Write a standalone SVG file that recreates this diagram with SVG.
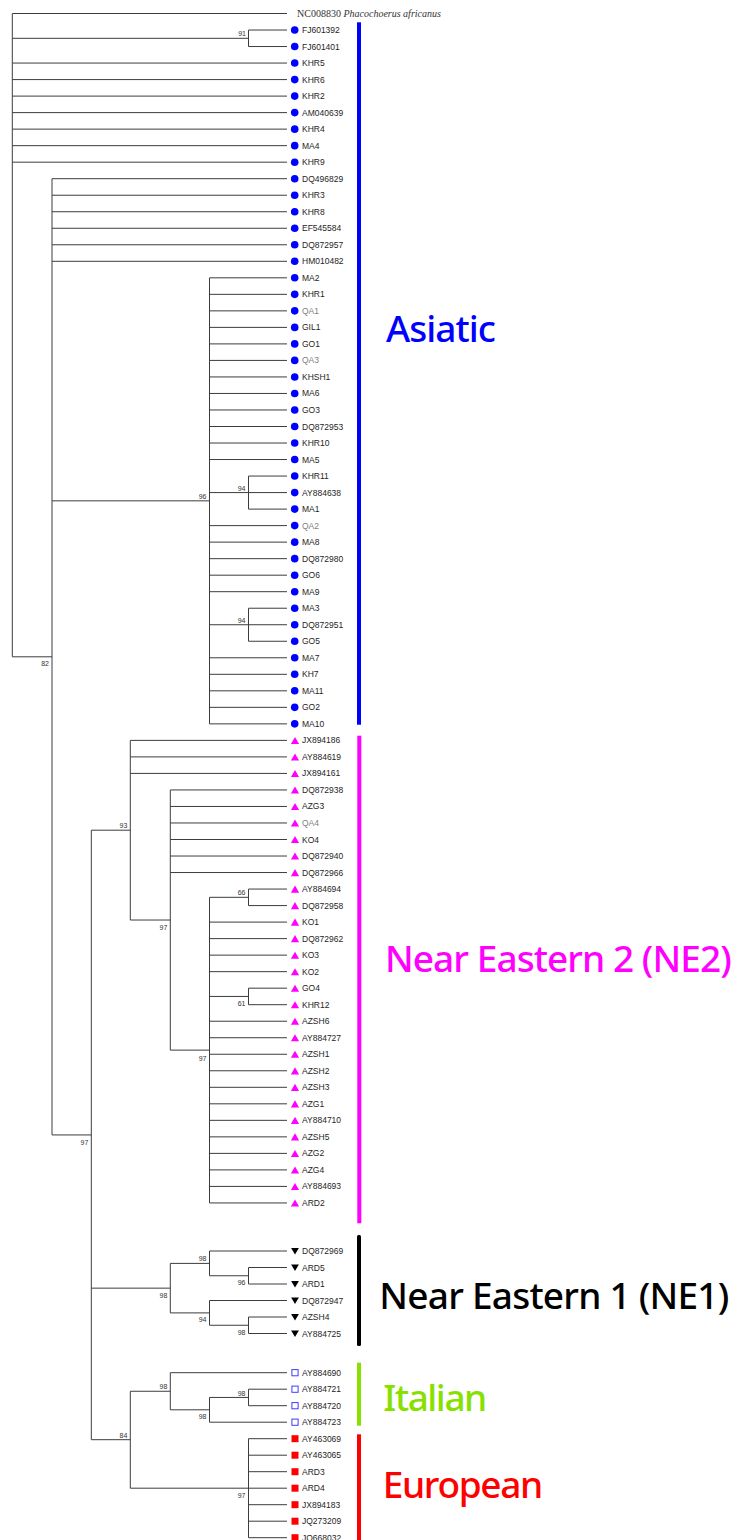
<svg xmlns="http://www.w3.org/2000/svg" width="739" height="1540" viewBox="0 0 739 1540">
<style>
.br{fill:none;stroke:#3c3c3c;stroke-width:1}
.lf{font-family:"Liberation Sans",Arial,sans-serif;font-size:8.5px;fill:#1e1e1e}
.qa{fill:#808080}
.bs{font-family:"Liberation Sans",Arial,sans-serif;font-size:7px;fill:#333;text-anchor:end}
.cl{font-family:"Noto Sans","Open Sans",sans-serif;font-size:37px;font-weight:500}
</style>
<defs>
<circle id="c" r="3.8" fill="#0000ff"/>
<polygon id="tu" points="0,-3.5 4.1,3.6 -4.1,3.6" fill="#ff00ff"/>
<polygon id="td" points="-3.9,-3 3.9,-3 0,3.5" fill="#000"/>
<rect id="so" x="-3.1" y="-3.1" width="6.2" height="6.2" fill="none" stroke="#3c3cff" stroke-width="1"/>
<rect id="sr" x="-3.5" y="-3.5" width="7" height="7" fill="#ff0000"/>
</defs>
<rect width="739" height="1540" fill="#fff"/>
<g id="connectors" class="br">
<path d="M12.3 13.5V656.8 M12.3 13.5H287 M12.3 38.3H248.5 M12.3 63.06H287 M12.3 79.58H287 M12.3 96.1H287 M12.3 112.62H287 M12.3 129.14H287 M12.3 145.66H287 M12.3 162.18H287 M12.3 656.8H52"/>
<path d="M248.5 30.02V46.54 M248.5 30.02H287 M248.5 46.54H287"/>
<path d="M52 178.7V1134.95 M52 178.7H287 M52 195.22H287 M52 211.74H287 M52 228.26H287 M52 244.78H287 M52 261.3H287 M52 500.84H209.5 M52 1134.95H91.3"/>
<path d="M209.5 277.82V723.86 M209.5 277.82H287 M209.5 294.34H287 M209.5 310.86H287 M209.5 327.38H287 M209.5 343.9H287 M209.5 360.42H287 M209.5 376.94H287 M209.5 393.46H287 M209.5 409.98H287 M209.5 426.5H287 M209.5 443.02H287 M209.5 459.54H287 M209.5 492.58H248.5 M209.5 525.62H287 M209.5 542.14H287 M209.5 558.66H287 M209.5 575.18H287 M209.5 591.7H287 M209.5 624.74H248.5 M209.5 657.78H287 M209.5 674.3H287 M209.5 690.82H287 M209.5 707.34H287 M209.5 723.86H287"/>
<path d="M248.5 476.06V509.1 M248.5 476.06H287 M248.5 492.58H287 M248.5 509.1H287"/>
<path d="M248.5 608.22V641.26 M248.5 608.22H287 M248.5 624.74H287 M248.5 641.26H287"/>
<path d="M91.3 830.2V1439.7 M91.3 830.2H130.3 M91.3 1288.15H170.3 M91.3 1439.7H130.3"/>
<path d="M130.3 740.38V920.03 M130.3 740.38H287 M130.3 756.9H287 M130.3 773.42H287 M130.3 920.03H170.3"/>
<path d="M170.3 789.94V1050.13 M170.3 789.94H287 M170.3 806.46H287 M170.3 822.98H287 M170.3 839.5H287 M170.3 856.02H287 M170.3 872.54H287 M170.3 1050.13H209.5"/>
<path d="M209.5 897.32V1202.94 M209.5 897.32H248.5 M209.5 922.1H287 M209.5 938.62H287 M209.5 955.14H287 M209.5 971.66H287 M209.5 996.44H248.5 M209.5 1021.22H287 M209.5 1037.74H287 M209.5 1054.26H287 M209.5 1070.78H287 M209.5 1087.3H287 M209.5 1103.82H287 M209.5 1120.34H287 M209.5 1136.86H287 M209.5 1153.38H287 M209.5 1169.9H287 M209.5 1186.42H287 M209.5 1202.94H287"/>
<path d="M248.5 889.06V905.58 M248.5 889.06H287 M248.5 905.58H287"/>
<path d="M248.5 988.18V1004.7 M248.5 988.18H287 M248.5 1004.7H287"/>
<path d="M170.3 1263.4V1312.9 M170.3 1263.4H209.5 M170.3 1312.9H209.5"/>
<path d="M209.5 1251V1275.75 M209.5 1251H287 M209.5 1275.75H248.5"/>
<path d="M248.5 1267.5V1284 M248.5 1267.5H287 M248.5 1284H287"/>
<path d="M209.5 1300.5V1325.25 M209.5 1300.5H287 M209.5 1325.25H248.5"/>
<path d="M248.5 1317V1333.5 M248.5 1317H287 M248.5 1333.5H287"/>
<path d="M130.3 1391.25V1488.2 M130.3 1391.25H170.3 M130.3 1488.2H248.5"/>
<path d="M170.3 1372.7V1409.8 M170.3 1372.7H287 M170.3 1409.8H209.5"/>
<path d="M209.5 1397.45V1422.2 M209.5 1397.45H248.5 M209.5 1422.2H287"/>
<path d="M248.5 1389.2V1405.7 M248.5 1389.2H287 M248.5 1405.7H287"/>
<path d="M248.5 1438.7V1537.7 M248.5 1438.7H287 M248.5 1455.2H287 M248.5 1471.7H287 M248.5 1488.2H287 M248.5 1504.7H287 M248.5 1521.2H287 M248.5 1537.7H287"/>
</g>
<g id="bootstrap" class="bs">
<text x="246" y="36.3">91</text>
<text x="49" y="666.3">82</text>
<text x="206.5" y="498.8">96</text>
<text x="245.5" y="490.6">94</text>
<text x="245.5" y="622.7">94</text>
<text x="127.3" y="828.2">93</text>
<text x="167.3" y="929.5">97</text>
<text x="245.5" y="895.3">66</text>
<text x="245.5" y="1006">61</text>
<text x="206.5" y="1060.5">97</text>
<text x="88.3" y="1144.5">97</text>
<text x="167.3" y="1297.8">98</text>
<text x="206.5" y="1261.4">98</text>
<text x="245.5" y="1285.3">96</text>
<text x="206.5" y="1322.4">94</text>
<text x="245.5" y="1334.8">98</text>
<text x="127.3" y="1437.9">84</text>
<text x="167.3" y="1389.3">98</text>
<text x="206.5" y="1419.3">98</text>
<text x="245.5" y="1395.5">98</text>
<text x="245.5" y="1497.7">97</text>
</g>
<g id="outgroup"><text x="297" y="16.8" font-family="'Liberation Serif','Times New Roman',serif" font-size="10" fill="#333">NC008830 <tspan font-style="italic">Phacochoerus africanus</tspan></text></g>
<g id="asiatic-leaves" class="lf">
<g id="n-FJ601392"><use href="#c" x="294.7" y="30.02"/><text x="302" y="33.02">FJ601392</text></g>
<g id="n-FJ601401"><use href="#c" x="294.7" y="46.54"/><text x="302" y="49.54">FJ601401</text></g>
<g id="n-KHR5"><use href="#c" x="294.7" y="63.06"/><text x="302" y="66.06">KHR5</text></g>
<g id="n-KHR6"><use href="#c" x="294.7" y="79.58"/><text x="302" y="82.58">KHR6</text></g>
<g id="n-KHR2"><use href="#c" x="294.7" y="96.1"/><text x="302" y="99.1">KHR2</text></g>
<g id="n-AM040639"><use href="#c" x="294.7" y="112.62"/><text x="302" y="115.62">AM040639</text></g>
<g id="n-KHR4"><use href="#c" x="294.7" y="129.14"/><text x="302" y="132.14">KHR4</text></g>
<g id="n-MA4"><use href="#c" x="294.7" y="145.66"/><text x="302" y="148.66">MA4</text></g>
<g id="n-KHR9"><use href="#c" x="294.7" y="162.18"/><text x="302" y="165.18">KHR9</text></g>
<g id="n-DQ496829"><use href="#c" x="294.7" y="178.7"/><text x="302" y="181.7">DQ496829</text></g>
<g id="n-KHR3"><use href="#c" x="294.7" y="195.22"/><text x="302" y="198.22">KHR3</text></g>
<g id="n-KHR8"><use href="#c" x="294.7" y="211.74"/><text x="302" y="214.74">KHR8</text></g>
<g id="n-EF545584"><use href="#c" x="294.7" y="228.26"/><text x="302" y="231.26">EF545584</text></g>
<g id="n-DQ872957"><use href="#c" x="294.7" y="244.78"/><text x="302" y="247.78">DQ872957</text></g>
<g id="n-HM010482"><use href="#c" x="294.7" y="261.3"/><text x="302" y="264.3">HM010482</text></g>
<g id="n-MA2"><use href="#c" x="294.7" y="277.82"/><text x="302" y="280.82">MA2</text></g>
<g id="n-KHR1"><use href="#c" x="294.7" y="294.34"/><text x="302" y="297.34">KHR1</text></g>
<g id="n-QA1"><use href="#c" x="294.7" y="310.86"/><text x="302" y="313.86" class="qa">QA1</text></g>
<g id="n-GIL1"><use href="#c" x="294.7" y="327.38"/><text x="302" y="330.38">GIL1</text></g>
<g id="n-GO1"><use href="#c" x="294.7" y="343.9"/><text x="302" y="346.9">GO1</text></g>
<g id="n-QA3"><use href="#c" x="294.7" y="360.42"/><text x="302" y="363.42" class="qa">QA3</text></g>
<g id="n-KHSH1"><use href="#c" x="294.7" y="376.94"/><text x="302" y="379.94">KHSH1</text></g>
<g id="n-MA6"><use href="#c" x="294.7" y="393.46"/><text x="302" y="396.46">MA6</text></g>
<g id="n-GO3"><use href="#c" x="294.7" y="409.98"/><text x="302" y="412.98">GO3</text></g>
<g id="n-DQ872953"><use href="#c" x="294.7" y="426.5"/><text x="302" y="429.5">DQ872953</text></g>
<g id="n-KHR10"><use href="#c" x="294.7" y="443.02"/><text x="302" y="446.02">KHR10</text></g>
<g id="n-MA5"><use href="#c" x="294.7" y="459.54"/><text x="302" y="462.54">MA5</text></g>
<g id="n-KHR11"><use href="#c" x="294.7" y="476.06"/><text x="302" y="479.06">KHR11</text></g>
<g id="n-AY884638"><use href="#c" x="294.7" y="492.58"/><text x="302" y="495.58">AY884638</text></g>
<g id="n-MA1"><use href="#c" x="294.7" y="509.1"/><text x="302" y="512.1">MA1</text></g>
<g id="n-QA2"><use href="#c" x="294.7" y="525.62"/><text x="302" y="528.62" class="qa">QA2</text></g>
<g id="n-MA8"><use href="#c" x="294.7" y="542.14"/><text x="302" y="545.14">MA8</text></g>
<g id="n-DQ872980"><use href="#c" x="294.7" y="558.66"/><text x="302" y="561.66">DQ872980</text></g>
<g id="n-GO6"><use href="#c" x="294.7" y="575.18"/><text x="302" y="578.18">GO6</text></g>
<g id="n-MA9"><use href="#c" x="294.7" y="591.7"/><text x="302" y="594.7">MA9</text></g>
<g id="n-MA3"><use href="#c" x="294.7" y="608.22"/><text x="302" y="611.22">MA3</text></g>
<g id="n-DQ872951"><use href="#c" x="294.7" y="624.74"/><text x="302" y="627.74">DQ872951</text></g>
<g id="n-GO5"><use href="#c" x="294.7" y="641.26"/><text x="302" y="644.26">GO5</text></g>
<g id="n-MA7"><use href="#c" x="294.7" y="657.78"/><text x="302" y="660.78">MA7</text></g>
<g id="n-KH7"><use href="#c" x="294.7" y="674.3"/><text x="302" y="677.3">KH7</text></g>
<g id="n-MA11"><use href="#c" x="294.7" y="690.82"/><text x="302" y="693.82">MA11</text></g>
<g id="n-GO2"><use href="#c" x="294.7" y="707.34"/><text x="302" y="710.34">GO2</text></g>
<g id="n-MA10"><use href="#c" x="294.7" y="723.86"/><text x="302" y="726.86">MA10</text></g>
</g>
<g id="ne2-leaves" class="lf">
<g id="n-JX894186"><use href="#tu" x="295" y="740.38"/><text x="302" y="743.38">JX894186</text></g>
<g id="n-AY884619"><use href="#tu" x="295" y="756.9"/><text x="302" y="759.9">AY884619</text></g>
<g id="n-JX894161"><use href="#tu" x="295" y="773.42"/><text x="302" y="776.42">JX894161</text></g>
<g id="n-DQ872938"><use href="#tu" x="295" y="789.94"/><text x="302" y="792.94">DQ872938</text></g>
<g id="n-AZG3"><use href="#tu" x="295" y="806.46"/><text x="302" y="809.46">AZG3</text></g>
<g id="n-QA4"><use href="#tu" x="295" y="822.98"/><text x="302" y="825.98" class="qa">QA4</text></g>
<g id="n-KO4"><use href="#tu" x="295" y="839.5"/><text x="302" y="842.5">KO4</text></g>
<g id="n-DQ872940"><use href="#tu" x="295" y="856.02"/><text x="302" y="859.02">DQ872940</text></g>
<g id="n-DQ872966"><use href="#tu" x="295" y="872.54"/><text x="302" y="875.54">DQ872966</text></g>
<g id="n-AY884694"><use href="#tu" x="295" y="889.06"/><text x="302" y="892.06">AY884694</text></g>
<g id="n-DQ872958"><use href="#tu" x="295" y="905.58"/><text x="302" y="908.58">DQ872958</text></g>
<g id="n-KO1"><use href="#tu" x="295" y="922.1"/><text x="302" y="925.1">KO1</text></g>
<g id="n-DQ872962"><use href="#tu" x="295" y="938.62"/><text x="302" y="941.62">DQ872962</text></g>
<g id="n-KO3"><use href="#tu" x="295" y="955.14"/><text x="302" y="958.14">KO3</text></g>
<g id="n-KO2"><use href="#tu" x="295" y="971.66"/><text x="302" y="974.66">KO2</text></g>
<g id="n-GO4"><use href="#tu" x="295" y="988.18"/><text x="302" y="991.18">GO4</text></g>
<g id="n-KHR12"><use href="#tu" x="295" y="1004.7"/><text x="302" y="1007.7">KHR12</text></g>
<g id="n-AZSH6"><use href="#tu" x="295" y="1021.22"/><text x="302" y="1024.22">AZSH6</text></g>
<g id="n-AY884727"><use href="#tu" x="295" y="1037.74"/><text x="302" y="1040.74">AY884727</text></g>
<g id="n-AZSH1"><use href="#tu" x="295" y="1054.26"/><text x="302" y="1057.26">AZSH1</text></g>
<g id="n-AZSH2"><use href="#tu" x="295" y="1070.78"/><text x="302" y="1073.78">AZSH2</text></g>
<g id="n-AZSH3"><use href="#tu" x="295" y="1087.3"/><text x="302" y="1090.3">AZSH3</text></g>
<g id="n-AZG1"><use href="#tu" x="295" y="1103.82"/><text x="302" y="1106.82">AZG1</text></g>
<g id="n-AY884710"><use href="#tu" x="295" y="1120.34"/><text x="302" y="1123.34">AY884710</text></g>
<g id="n-AZSH5"><use href="#tu" x="295" y="1136.86"/><text x="302" y="1139.86">AZSH5</text></g>
<g id="n-AZG2"><use href="#tu" x="295" y="1153.38"/><text x="302" y="1156.38">AZG2</text></g>
<g id="n-AZG4"><use href="#tu" x="295" y="1169.9"/><text x="302" y="1172.9">AZG4</text></g>
<g id="n-AY884693"><use href="#tu" x="295" y="1186.42"/><text x="302" y="1189.42">AY884693</text></g>
<g id="n-ARD2"><use href="#tu" x="295" y="1202.94"/><text x="302" y="1205.94">ARD2</text></g>
</g>
<g id="ne1-leaves" class="lf">
<g id="n-DQ872969"><use href="#td" x="295" y="1251"/><text x="302" y="1254">DQ872969</text></g>
<g id="n-ARD5"><use href="#td" x="295" y="1267.5"/><text x="302" y="1270.5">ARD5</text></g>
<g id="n-ARD1"><use href="#td" x="295" y="1284"/><text x="302" y="1287">ARD1</text></g>
<g id="n-DQ872947"><use href="#td" x="295" y="1300.5"/><text x="302" y="1303.5">DQ872947</text></g>
<g id="n-AZSH4"><use href="#td" x="295" y="1317"/><text x="302" y="1320">AZSH4</text></g>
<g id="n-AY884725"><use href="#td" x="295" y="1333.5"/><text x="302" y="1336.5">AY884725</text></g>
</g>
<g id="italian-leaves" class="lf">
<g id="n-AY884690"><use href="#so" x="295" y="1372.7"/><text x="302" y="1375.7">AY884690</text></g>
<g id="n-AY884721"><use href="#so" x="295" y="1389.2"/><text x="302" y="1392.2">AY884721</text></g>
<g id="n-AY884720"><use href="#so" x="295" y="1405.7"/><text x="302" y="1408.7">AY884720</text></g>
<g id="n-AY884723"><use href="#so" x="295" y="1422.2"/><text x="302" y="1425.2">AY884723</text></g>
</g>
<g id="european-leaves" class="lf">
<g id="n-AY463069"><use href="#sr" x="295" y="1438.7"/><text x="302" y="1441.7">AY463069</text></g>
<g id="n-AY463065"><use href="#sr" x="295" y="1455.2"/><text x="302" y="1458.2">AY463065</text></g>
<g id="n-ARD3"><use href="#sr" x="295" y="1471.7"/><text x="302" y="1474.7">ARD3</text></g>
<g id="n-ARD4"><use href="#sr" x="295" y="1488.2"/><text x="302" y="1491.2">ARD4</text></g>
<g id="n-JX894183"><use href="#sr" x="295" y="1504.7"/><text x="302" y="1507.7">JX894183</text></g>
<g id="n-JQ273209"><use href="#sr" x="295" y="1521.2"/><text x="302" y="1524.2">JQ273209</text></g>
<g id="n-JQ668032"><use href="#sr" x="295" y="1537.7"/><text x="302" y="1540.7">JQ668032</text></g>
</g>
<g id="clade-bars">
<rect x="357" y="22.3" width="4" height="702.4" fill="#0000ff"/>
<rect x="357.3" y="735.7" width="4" height="487.6" fill="#ff00ff"/>
<rect x="357" y="1235" width="4" height="111" rx="1.5" fill="#000"/>
<rect x="357" y="1362.7" width="4" height="63" fill="#88e000"/>
<rect x="357" y="1434.3" width="4" height="110" fill="#ff0000"/>
</g>
<g id="clade-labels" class="cl">
<text x="386" y="342.3" fill="#0000ff" textLength="110">Asiatic</text>
<text x="385" y="972.3" fill="#ff00ff" textLength="346.7">Near Eastern 2 (NE2)</text>
<text x="379.3" y="1309.3" fill="#000" textLength="350">Near Eastern 1 (NE1)</text>
<text x="383.3" y="1411" fill="#88e000" textLength="104">Italian</text>
<text x="382.7" y="1498.3" fill="#ff0000" textLength="160.6">European</text>
</g>
</svg>
